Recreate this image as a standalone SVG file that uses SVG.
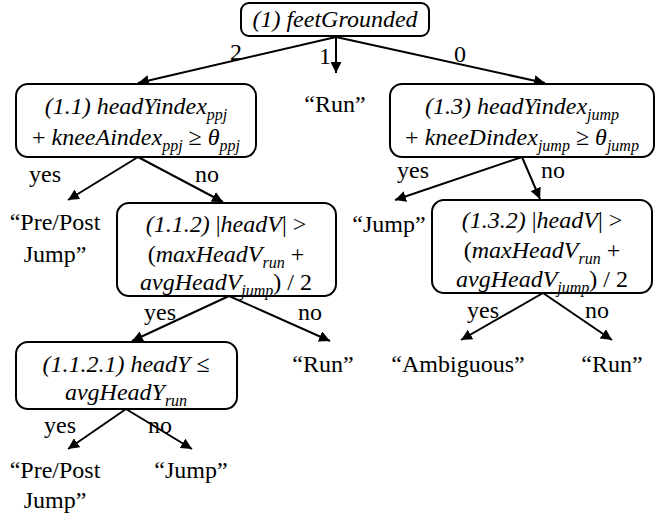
<svg xmlns="http://www.w3.org/2000/svg" width="672" height="521" viewBox="0 0 672 521">
<style>
text{font-family:"Liberation Serif","Times New Roman",serif;font-size:24px;fill:#000;text-anchor:middle}
.i{font-style:italic}
.u{font-style:normal}
.s{font-size:16px;font-style:italic}
.box{fill:#fff;stroke:#000;stroke-width:2}
.c line{stroke:#000;stroke-width:2;marker-end:url(#ah)}
</style>
<defs>
<marker id="ah" viewBox="0 0 10 10" refX="10" refY="5" markerWidth="5.5" markerHeight="5.5" markerUnits="strokeWidth" orient="auto">
<path d="M0,0 L10,5 L0,10 z" fill="#000"/>
</marker>
</defs>
<rect width="672" height="521" fill="#fff"/>
<g class="c" id="connectors">
<line x1="336" y1="37" x2="138" y2="83"/>
<line x1="336" y1="37" x2="336" y2="73"/>
<line x1="336" y1="37" x2="545" y2="83"/>
<line x1="138" y1="157" x2="68" y2="200"/>
<line x1="138" y1="157" x2="223" y2="202"/>
<line x1="522" y1="157" x2="395" y2="200"/>
<line x1="522" y1="157" x2="540" y2="199"/>
<line x1="229" y1="296" x2="132" y2="341"/>
<line x1="229" y1="296" x2="330" y2="341"/>
<line x1="543" y1="293" x2="461" y2="340"/>
<line x1="543" y1="293" x2="612" y2="340"/>
<line x1="126" y1="409" x2="68" y2="449"/>
<line x1="126" y1="409" x2="192" y2="449"/>
</g>
<g id="edge-labels">
<text x="236" y="60">2</text>
<text x="325" y="64">1</text>
<text x="460" y="62">0</text>
<text x="45" y="182">yes</text>
<text x="207" y="182">no</text>
<text x="413" y="178">yes</text>
<text x="553" y="178">no</text>
<text x="160" y="320">yes</text>
<text x="310" y="320">no</text>
<text x="483" y="318">yes</text>
<text x="597" y="318">no</text>
<text x="60" y="433">yes</text>
<text x="160" y="433">no</text>
</g>
<g id="n1">
<rect class="box" x="241" y="3" width="188" height="33" rx="8"/>
<text class="i" x="335" y="27">(1) feetGrounded</text>
</g>
<g id="run1">
<text x="335" y="112">“Run”</text>
</g>
<g id="n1_1">
<rect class="box" x="16" y="84" width="240" height="73" rx="12"/>
<text class="i" x="136" y="114">(1.1) headYindex<tspan class="s" dy="6">ppj</tspan></text>
<text class="i" x="136" y="145"><tspan class="u">+ </tspan>kneeAindex<tspan class="s" dy="6">ppj</tspan><tspan class="u" dy="-6"> ≥ </tspan>θ<tspan class="s" dy="6">ppj</tspan></text>
</g>
<g id="n1_3">
<rect class="box" x="390" y="84" width="264" height="73" rx="12"/>
<text class="i" x="522" y="114">(1.3) headYindex<tspan class="s" dy="6">jump</tspan></text>
<text class="i" x="522" y="145"><tspan class="u">+ </tspan>kneeDindex<tspan class="s" dy="6">jump</tspan><tspan class="u" dy="-6"> ≥ </tspan>θ<tspan class="s" dy="6">jump</tspan></text>
</g>
<g id="prepost1">
<text x="55" y="230">“Pre/Post</text>
<text x="55" y="262">Jump”</text>
</g>
<g id="n1_1_2">
<rect class="box" x="117" y="203" width="219" height="93" rx="12"/>
<text class="i" x="226" y="232">(1.1.2) <tspan class="u">|</tspan>headV<tspan class="u">| &gt;</tspan></text>
<text class="i" x="226" y="262"><tspan class="u">(</tspan>maxHeadV<tspan class="s" dy="6">run</tspan><tspan class="u" dy="-6"> +</tspan></text>
<text class="i" x="226" y="290">avgHeadV<tspan class="s" dy="6">jump</tspan><tspan class="u" dy="-6">) / 2</tspan></text>
</g>
<g id="jump1">
<text x="389" y="232">“Jump”</text>
</g>
<g id="n1_3_2">
<rect class="box" x="432" y="200" width="220" height="93" rx="12"/>
<text class="i" x="542" y="228">(1.3.2) <tspan class="u">|</tspan>headV<tspan class="u">| &gt;</tspan></text>
<text class="i" x="542" y="258"><tspan class="u">(</tspan>maxHeadV<tspan class="s" dy="6">run</tspan><tspan class="u" dy="-6"> +</tspan></text>
<text class="i" x="542" y="287">avgHeadV<tspan class="s" dy="6">jump</tspan><tspan class="u" dy="-6">) / 2</tspan></text>
</g>
<g id="n1_1_2_1">
<rect class="box" x="16" y="342" width="221" height="67" rx="12"/>
<text class="i" x="126" y="372">(1.1.2.1) headY <tspan class="u">≤</tspan></text>
<text class="i" x="126" y="400">avgHeadY<tspan class="s" dy="6">run</tspan></text>
</g>
<g id="run2"><text x="323" y="372">“Run”</text></g>
<g id="ambiguous"><text x="458" y="372">“Ambiguous”</text></g>
<g id="run3"><text x="612" y="372">“Run”</text></g>
<g id="prepost2">
<text x="55" y="478">“Pre/Post</text>
<text x="55" y="508">Jump”</text>
</g>
<g id="jump2"><text x="191" y="478">“Jump”</text></g>
</svg>
